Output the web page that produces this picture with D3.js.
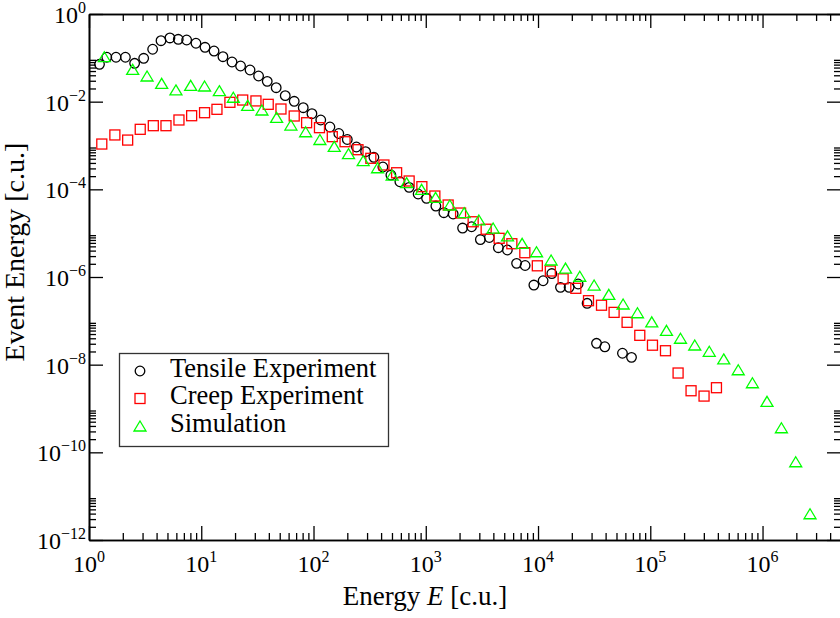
<!DOCTYPE html>
<html>
<head>
<meta charset="utf-8">
<title>Event energy distribution</title>
<style>
  body { margin: 0; background: #fff; }
  svg { display: block; }
  text { font-family: "Liberation Serif", "Times New Roman", serif; fill: #000; }
</style>
<script src="https://d3js.org/d3.v7.min.js"></script>
</head>
<body>
<script>
// data: energy E [c.u.] and event energy [c.u.]
var tensileE = [1.24, 1.44, 1.74, 2.11, 2.55, 3.07, 3.69, 4.38, 5.26, 6.24, 7.41, 8.97, 10.8, 13.0, 15.6,
  18.8, 22.4, 27.2, 32.4, 38.7, 46.5, 56.0, 67.3, 81.0, 96.8, 116, 140, 168, 200, 241, 291, 345, 415, 489,
  588, 711, 855, 1016, 1230, 1449, 1754, 2128, 2559, 3064, 3683, 4429, 5333, 6442, 7674, 9183, 11100,
  13270, 15850, 18920, 22760, 27370, 33190, 39360, 56500, 68040];
var tensileV = [7.12e-2, 1.03e-1, 1.03e-1, 1.03e-1, 7.5e-2, 9.76e-2, 0.157, 0.246, 0.284, 0.265, 0.255,
  0.215, 0.174, 0.143, 0.106, 8.03e-2, 6.51e-2, 5.28e-2, 3.85e-2, 2.91e-2, 2.08e-2, 1.37e-2, 1.02e-2,
  7.28e-3, 5.31e-3, 3.82e-3, 2.64e-3, 1.88e-3, 1.37e-3, 9.24e-4, 7.22e-4, 5.38e-4, 3.23e-4, 2.12e-4,
  1.49e-4, 1.11e-4, 7.82e-5, 6.24e-5, 4.16e-5, 2.93e-5, 2.74e-5, 1.31e-5, 1.40e-5, 7.16e-6, 7.96e-6,
  4.66e-6, 4.13e-6, 2.05e-6, 1.83e-6, 6.56e-7, 8.22e-7, 1.20e-6, 5.81e-7, 5.81e-7, 6.92e-7, 2.51e-7,
  3.07e-8, 2.56e-8, 1.82e-8, 1.47e-8];

var creepE = [1.30, 1.70, 2.21, 2.86, 3.74, 4.85, 6.33, 8.21, 10.7, 13.8, 18.0, 23.4, 30.7, 39.5, 51.3,
  67.3, 86.8, 113, 147, 191, 249, 324, 424, 550, 711, 923, 1205, 1583, 2042, 2643, 3451, 4505, 5845,
  7629, 9858, 12870, 16730, 21710, 28160, 36770, 47610, 62150, 80640, 104600, 136600, 176900, 230800,
  301300, 388600];
var creepV = [1.08e-3, 1.74e-3, 1.33e-3, 2.34e-3, 2.83e-3, 2.83e-3, 3.82e-3, 4.78e-3, 5.60e-3, 6.69e-3,
  9.67e-3, 1.09e-2, 1.04e-2, 8.7e-3, 6.80e-3, 4.71e-3, 3.31e-3, 2.55e-3, 1.59e-3, 1.22e-3, 8.02e-4,
  5.10e-4, 3.59e-4, 2.39e-4, 1.55e-4, 1.15e-4, 7.04e-5, 4.39e-5, 2.88e-5, 1.82e-5, 1.23e-5, 7.63e-6,
  5.74e-6, 3.58e-6, 1.80e-6, 1.37e-6, 9.09e-7, 5.52e-7, 2.88e-7, 2.27e-7, 1.56e-7, 9.25e-8, 4.67e-8,
  2.78e-8, 2.08e-8, 6.45e-9, 2.54e-9, 1.92e-9, 2.98e-9];

var simE = [1.37, 2.45, 3.29, 4.44, 5.95, 8.05, 10.7, 14.5, 19.3, 25.9, 34.7, 46.9, 62.9, 85.1, 114,
  153, 205, 277, 372, 502, 675, 918, 1223, 1639, 2198, 2971, 3983, 5350, 7218, 9697, 13080, 17580,
  23560, 31600, 42710, 57270, 76910, 103100, 139400, 185800, 249000, 335300, 451300, 607600, 812800,
  1.096e6, 1.473e6, 1.975e6, 2.649e6];
var simV = [0.106, 5.47e-2, 3.85e-2, 2.62e-2, 1.85e-2, 2.36e-2, 2.28e-2, 1.78e-2, 1.26e-2, 8.26e-3,
  6.45e-3, 4.40e-3, 2.93e-3, 2.06e-3, 1.37e-3, 9.58e-4, 6.50e-4, 4.50e-4, 3.11e-4, 2.12e-4, 1.42e-4,
  1.0e-4, 6.58e-5, 4.39e-5, 2.93e-5, 2.0e-5, 1.31e-5, 8.70e-6, 5.87e-6, 3.77e-6, 2.44e-6, 1.60e-6,
  1.04e-6, 6.56e-7, 4.03e-7, 2.42e-7, 1.53e-7, 9.49e-8, 6.07e-8, 4.01e-8, 2.81e-8, 2.02e-8, 1.35e-8,
  7.66e-9, 3.87e-9, 1.46e-9, 3.64e-10, 6.10e-11, 3.97e-12];

var xMajor = [1, 10, 1e2, 1e3, 1e4, 1e5, 1e6];
var xExp = ["0", "1", "2", "3", "4", "5", "6"];
var yMajor = [1, 1e-2, 1e-4, 1e-6, 1e-8, 1e-10, 1e-12];
var yExp = ["0", "\u22122", "\u22124", "\u22126", "\u22128", "\u221210", "\u221212"];
var seriesNames = ["Tensile Experiment", "Creep Experiment", "Simulation"];
var seriesColors = ["#000000", "#ff0000", "#00ff00"];

var width = 840, height = 618;
var plotLeft = 89, plotRight = 841, plotTop = 14, plotBottom = 540;

var svg = d3.select("body").append("svg")
  .attr("width", width)
  .attr("height", height);

var x = d3.scaleLog().domain([1, 5e6]).range([plotLeft, plotRight]);
var y = d3.scaleLog().domain([1e-12, 1]).range([plotBottom, plotTop]);

// minor ticks: 2..9 times each major step
var xMinor = [];
xMajor.forEach(function(m) { for (var k = 2; k <= 9; k++) if (m * k < 5e6) xMinor.push(m * k); });
var yMinor = [];
yMajor.forEach(function(m) { for (var k = 2; k <= 9; k++) if (m * k < 1) yMinor.push(m * k); });

function styleAxis(g) {
  g.select(".domain").attr("stroke", "#000").attr("stroke-width", 1.6);
  g.selectAll(".tick line").attr("stroke", "#000").attr("stroke-width", 1.3);
  g.selectAll(".tick text").remove();
}

var axes = svg.append("g");
[[d3.axisBottom, "translate(0," + plotBottom + ")"], [d3.axisTop, "translate(0," + plotTop + ")"]].forEach(function(a) {
  axes.append("g").attr("transform", a[1])
    .call(a[0](x).tickValues(xMajor).tickSizeInner(-14).tickSizeOuter(0)).call(styleAxis);
  axes.append("g").attr("transform", a[1])
    .call(a[0](x).tickValues(xMinor).tickSizeInner(-7).tickSizeOuter(0)).call(styleAxis);
});
[[d3.axisLeft, "translate(" + plotLeft + ",0)"], [d3.axisRight, "translate(" + plotRight + ",0)"]].forEach(function(a) {
  axes.append("g").attr("transform", a[1])
    .call(a[0](y).tickValues(yMajor).tickSizeInner(-14).tickSizeOuter(0)).call(styleAxis);
  axes.append("g").attr("transform", a[1])
    .call(a[0](y).tickValues(yMinor).tickSizeInner(-7).tickSizeOuter(0)).call(styleAxis);
});

// tick labels with superscript exponents
var xl = svg.append("g").selectAll("text").data(xMajor).enter().append("text")
  .attr("x", function(d) { return x(d); })
  .attr("y", plotBottom + 32)
  .attr("text-anchor", "middle")
  .style("font-size", "24px");
xl.append("tspan").text("10");
xl.append("tspan").attr("dy", -10).style("font-size", "16px").text(function(d, i) { return xExp[i]; });

var yl = svg.append("g").selectAll("text").data(yMajor).enter().append("text")
  .attr("x", plotLeft - 3)
  .attr("y", function(d) { return y(d) + 9; })
  .attr("text-anchor", "end")
  .style("font-size", "24px");
yl.append("tspan").text("10");
yl.append("tspan").attr("dy", -10).style("font-size", "16px").text(function(d, i) { return yExp[i]; });

// axis titles
var xt = svg.append("text")
  .attr("x", 425).attr("y", 605)
  .attr("text-anchor", "middle")
  .style("font-size", "27px");
xt.append("tspan").text("Energy ");
xt.append("tspan").style("font-style", "italic").text("E");
xt.append("tspan").text(" [c.u.]");

svg.append("text")
  .attr("transform", "translate(24,252) rotate(-90)")
  .attr("text-anchor", "middle")
  .style("font-size", "28px")
  .text("Event Energy [c.u.]");

// markers
var triPath = "M0,-5L6,5L-6,5Z";
var plot = svg.append("g");

plot.append("g").selectAll("circle").data(tensileE).enter().append("circle")
  .attr("cx", function(d) { return x(d); })
  .attr("cy", function(d, i) { return y(tensileV[i]); })
  .attr("r", 4.8)
  .attr("fill", "none")
  .attr("stroke", seriesColors[0])
  .attr("stroke-width", 1.3);

plot.append("g").selectAll("rect").data(creepE).enter().append("rect")
  .attr("x", function(d) { return x(d) - 5; })
  .attr("y", function(d, i) { return y(creepV[i]) - 5; })
  .attr("width", 10).attr("height", 10)
  .attr("fill", "none")
  .attr("stroke", seriesColors[1])
  .attr("stroke-width", 1.3);

plot.append("g").selectAll("path").data(simE).enter().append("path")
  .attr("transform", function(d, i) { return "translate(" + x(d) + "," + y(simV[i]) + ")"; })
  .attr("d", triPath)
  .attr("fill", "none")
  .attr("stroke", seriesColors[2])
  .attr("stroke-width", 1.3);

// legend
var legend = svg.append("g");
legend.append("rect")
  .attr("x", 119.5).attr("y", 353.5)
  .attr("width", 269).attr("height", 93)
  .attr("fill", "#fff")
  .attr("stroke", "#333")
  .attr("stroke-width", 1.3);

var rows = legend.selectAll("g.row").data(seriesNames).enter().append("g")
  .attr("class", "row")
  .attr("transform", function(d, i) { return "translate(140," + (371 + i * 27.5) + ")"; });

rows.each(function(d, i) {
  var r = d3.select(this);
  if (i === 0) r.append("circle").attr("r", 4.8);
  else if (i === 1) r.append("rect").attr("x", -5).attr("y", -5).attr("width", 10).attr("height", 10);
  else r.append("path").attr("d", triPath);
  r.selectAll("circle, rect, path")
    .attr("fill", "none")
    .attr("stroke", seriesColors[i])
    .attr("stroke-width", 1.3);
  r.append("text")
    .attr("x", 30).attr("y", 5.5)
    .style("font-size", "26.5px")
    .text(d);
});
</script>
</body>
</html>
